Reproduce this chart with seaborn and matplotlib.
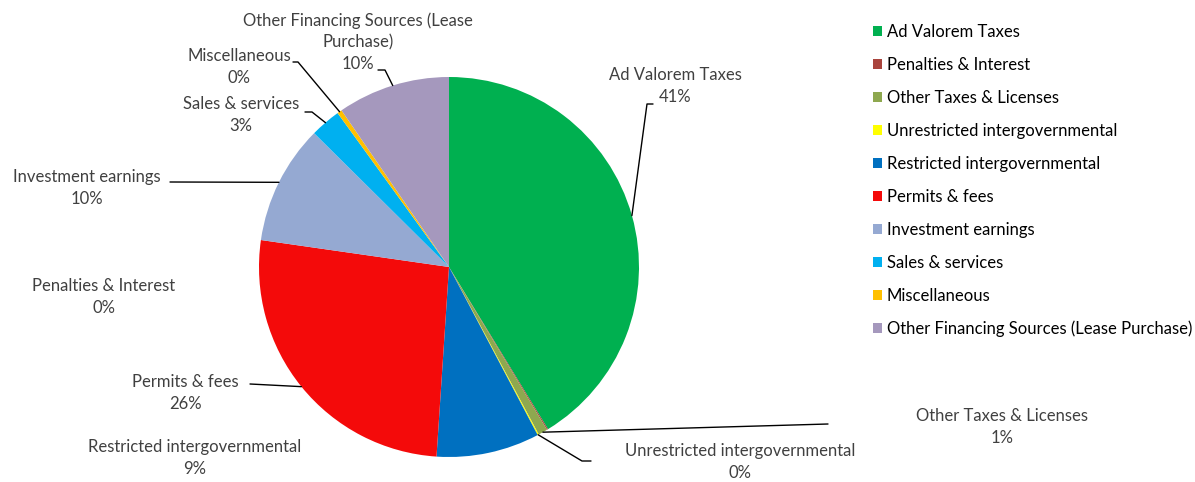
import seaborn as sns
import matplotlib.pyplot as plt
import numpy as np

# Revenue shares (percent), clockwise from 12 o'clock
categories = ['Ad Valorem Taxes', 'Penalties & Interest', 'Other Taxes & Licenses',
              'Unrestricted intergovernmental', 'Restricted intergovernmental',
              'Permits & fees', 'Investment earnings', 'Sales & services',
              'Miscellaneous', 'Other Financing Sources (Lease Purchase)']
shares = [41.4, 0.1, 0.8, 0.1, 8.8, 26.3, 10.2, 2.6, 0.4, 9.6]
colors = ['#00B050', '#A9443D', '#8EA84F', '#FFFF00', '#0070C0',
          '#F40A0A', '#95A9D2', '#00B0F0', '#FFC000', '#A598BD']
label_names = ['Ad Valorem Taxes', 'Penalties & Interest', 'Other Taxes & Licenses',
               'Unrestricted intergovernmental', 'Restricted intergovernmental',
               'Permits & fees', 'Investment earnings', 'Sales & services',
               'Miscellaneous', 'Other Financing Sources (Lease\nPurchase)']

sns.set_theme(style='white')
plt.rcParams['font.family'] = ['Lato', 'DejaVu Sans']

W, H = 1195, 482
fig = plt.figure(figsize=(W / 100, H / 100), dpi=100)
cx, cy, R = 449, 267, 190
ax = fig.add_axes([(cx - R) / W, (H - cy - R) / H, 2 * R / W, 2 * R / H])

wedges, _ = ax.pie(shares, colors=colors, startangle=90, counterclock=False,
                   wedgeprops=dict(linewidth=0))
ax.set_xlim(-1, 1)
ax.set_ylim(-1, 1)
ax.set_aspect('equal')
ax.axis('off')


def px(x, y):
    # pixel position -> pie data coords
    return (x - cx) / R, (cy - y) / R


# label layout: text centre (px) and leader path after the wedge edge (px)
layout = {
    0: ((675, 86), [(647, 104), (653, 104)]),
    1: ((104, 297), None),
    2: ((1002, 427), [(828, 424)]),
    3: ((740, 462), [(582, 461), (591, 461)]),
    4: ((195, 458), None),
    5: ((185, 393), [(250, 384)]),
    6: ((87, 188), [(170, 182)]),
    7: ((241, 115), [(312, 112), (305, 112)]),
    8: ((239, 67), [(298, 62), (293, 62)]),
    9: ((358, 42), [(385, 70), (378, 70)]),
}
line_gap = 21.5  # px between label lines

for i, w in enumerate(wedges):
    (tx, ty), path = layout[i]
    lines = f'{label_names[i]}\n{round(shares[i])}%'.split('\n')
    n = len(lines)
    for k, line in enumerate(lines):
        x, y = px(tx, ty + (k - (n - 1) / 2) * line_gap)
        ax.text(x, y, line, ha='center', va='center', fontsize=12,
                color='#404040', clip_on=False)
    if path:
        mid = np.deg2rad((w.theta1 + w.theta2) / 2)
        xs = [np.cos(mid)] + [px(*p)[0] for p in path]
        ys = [np.sin(mid)] + [px(*p)[1] for p in path]
        ax.plot(xs, ys, color='black', linewidth=1, clip_on=False)

fig.legend(wedges, categories, loc='upper left', bbox_to_anchor=(866 / W, 1 - 17 / H),
           frameon=False, fontsize=12, handlelength=0.55, handleheight=0.55,
           handletextpad=0.3, labelspacing=1.02, borderaxespad=0, labelcolor='#000000')

fig.savefig('out.png', dpi=100)
